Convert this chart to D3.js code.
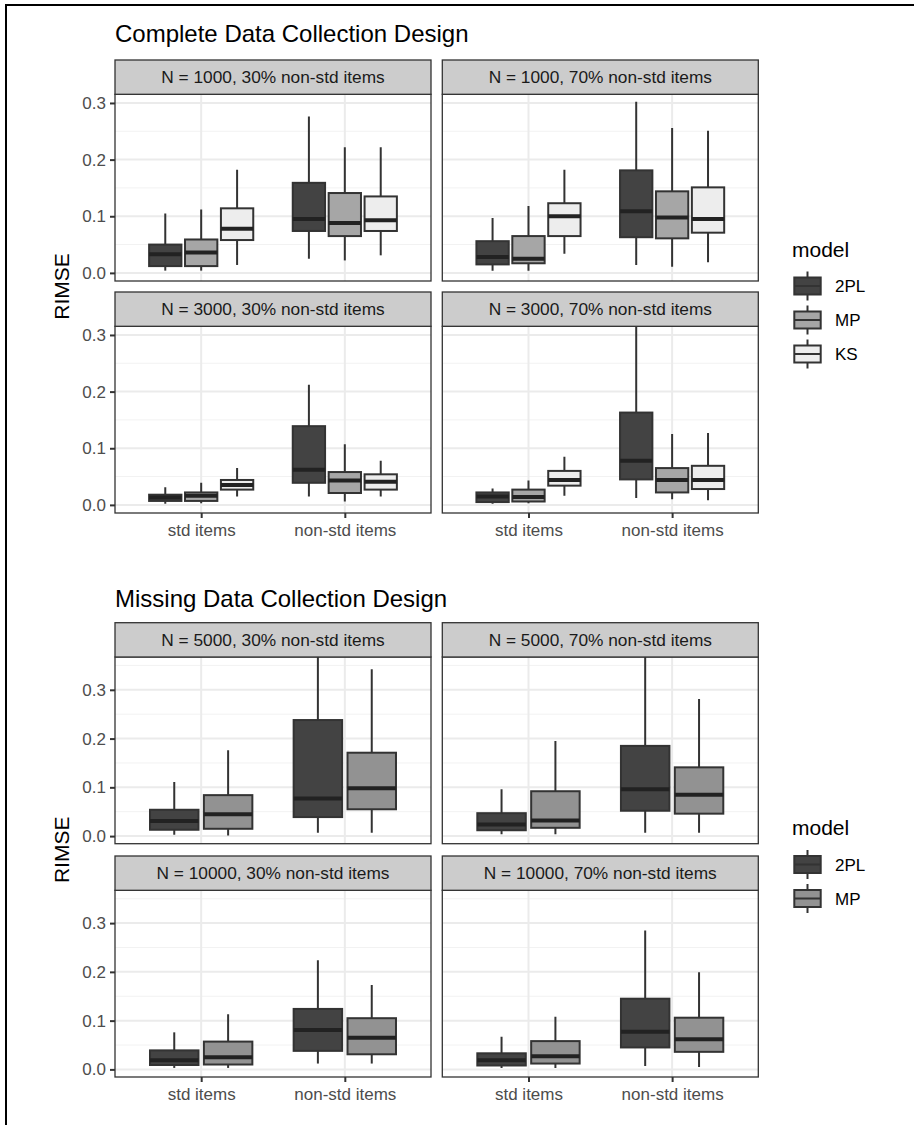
<!DOCTYPE html>
<html>
<head>
<meta charset="utf-8">
<script src="https://cdn.jsdelivr.net/npm/d3@7"></script>
<style>
  body { margin: 0; background: #fff; }
  text { font-family: "Liberation Sans", Arial, sans-serif; }
</style>
</head>
<body>
<div id="chart"></div>
<script>
// Categories and labels.
const itemTypes = ['std items', 'non-std items'];
const completeModels = ['2PL', 'MP', 'KS'];
const missingModels = ['2PL', 'MP'];
const completeFills = ['#434343', '#a6a6a6', '#ededed'];
const missingFills = ['#434343', '#929292'];
const completePanels = ['N = 1000, 30% non-std items', 'N = 1000, 70% non-std items',
                        'N = 3000, 30% non-std items', 'N = 3000, 70% non-std items'];
const missingPanels = ['N = 5000, 30% non-std items', 'N = 5000, 70% non-std items',
                       'N = 10000, 30% non-std items', 'N = 10000, 70% non-std items'];
const yTicks = [0, 0.1, 0.2, 0.3];

// Box stats: [item type][model] -> [lower whisker, q1, median, q3, upper whisker]
const c1000_30 = [
  [[0.004, 0.012, 0.033, 0.050, 0.105], [0.004, 0.012, 0.036, 0.059, 0.112], [0.014, 0.058, 0.078, 0.114, 0.182]],
  [[0.025, 0.074, 0.095, 0.159, 0.276], [0.022, 0.065, 0.088, 0.141, 0.222], [0.031, 0.074, 0.093, 0.135, 0.222]]
];
const c1000_70 = [
  [[0.004, 0.015, 0.028, 0.056, 0.097], [0.004, 0.017, 0.025, 0.065, 0.118], [0.034, 0.065, 0.100, 0.123, 0.182]],
  [[0.014, 0.063, 0.109, 0.181, 0.302], [0.011, 0.061, 0.098, 0.144, 0.256], [0.019, 0.071, 0.095, 0.151, 0.251]]
];
const c3000_30 = [
  [[0.002, 0.007, 0.013, 0.018, 0.031], [0.003, 0.007, 0.016, 0.022, 0.039], [0.015, 0.027, 0.035, 0.044, 0.065]],
  [[0.015, 0.039, 0.062, 0.139, 0.212], [0.006, 0.021, 0.043, 0.058, 0.107], [0.015, 0.027, 0.041, 0.054, 0.078]]
];
const c3000_70 = [
  [[0.002, 0.005, 0.015, 0.022, 0.029], [0.003, 0.006, 0.014, 0.027, 0.043], [0.016, 0.034, 0.044, 0.060, 0.085]],
  [[0.012, 0.045, 0.078, 0.163, 0.330], [0.010, 0.022, 0.044, 0.065, 0.125], [0.008, 0.028, 0.044, 0.069, 0.127]]
];
const m5000_30 = [
  [[0.003, 0.013, 0.031, 0.054, 0.111], [0.001, 0.015, 0.045, 0.084, 0.176]],
  [[0.007, 0.039, 0.077, 0.238, 0.400], [0.007, 0.055, 0.098, 0.171, 0.342]]
];
const m5000_70 = [
  [[0.004, 0.012, 0.024, 0.047, 0.096], [0.004, 0.017, 0.032, 0.092, 0.195]],
  [[0.007, 0.052, 0.096, 0.185, 0.390], [0.007, 0.046, 0.085, 0.141, 0.281]]
];
const m10000_30 = [
  [[0.003, 0.009, 0.019, 0.039, 0.076], [0.003, 0.010, 0.025, 0.057, 0.113]],
  [[0.012, 0.038, 0.081, 0.124, 0.224], [0.012, 0.031, 0.065, 0.105, 0.173]]
];
const m10000_70 = [
  [[0.003, 0.008, 0.019, 0.033, 0.067], [0.003, 0.012, 0.027, 0.058, 0.108]],
  [[0.007, 0.045, 0.077, 0.145, 0.285], [0.005, 0.036, 0.062, 0.106, 0.199]]
];

const width = 914, height = 1125;
const svg = d3.select('#chart').append('svg')
    .attr('width', width)
    .attr('height', height);

// Frame lines (top and left edge of the figure).
svg.append('line').attr('x1', 5).attr('x2', width).attr('y1', 5).attr('y2', 5)
    .attr('stroke', '#000').attr('stroke-width', 2);
svg.append('line').attr('x1', 6).attr('x2', 6).attr('y1', 5).attr('y2', height)
    .attr('stroke', '#000').attr('stroke-width', 2);

const colLefts = [115, 442.3];
const panelW = 316;
const stripH = 34.3;
const panelH = 186.7;
let clipId = 0;

function drawSection(o) {
    svg.append('text')
        .attr('x', 115).attr('y', o.titleY)
        .attr('font-size', 24).attr('fill', '#000')
        .text(o.title);

    const n = o.models.length;
    const unitW = 0.75 / n;

    o.panels.forEach((label, p) => {
        const col = p % 2, row = Math.floor(p / 2);
        const x0 = colLefts[col], x1 = x0 + panelW;
        const sTop = o.rowTops[row];
        const pTop = sTop + stripH, pBot = pTop + panelH;

        const x = d3.scalePoint().domain(itemTypes).range([x0, x1]).padding(0.6);
        const step = x.step();
        const y = d3.scaleLinear().domain(o.yDomain).range([pBot, pTop]);

        const g = svg.append('g');
        const id = 'clip' + (clipId++);
        g.append('clipPath').attr('id', id)
            .append('rect').attr('x', x0).attr('y', pTop).attr('width', panelW).attr('height', panelH);

        // Panel background and grid.
        g.append('rect').attr('x', x0).attr('y', pTop).attr('width', panelW).attr('height', panelH)
            .attr('fill', '#fff');
        const grid = g.append('g').attr('clip-path', `url(#${id})`);
        const minor = d3.range(0.05, o.yDomain[1], 0.1);
        grid.selectAll('.minor').data(minor).join('line')
            .attr('x1', x0).attr('x2', x1)
            .attr('y1', d => y(d)).attr('y2', d => y(d))
            .attr('stroke', '#f2f2f2').attr('stroke-width', 1);
        grid.selectAll('.major').data(yTicks).join('line')
            .attr('x1', x0).attr('x2', x1)
            .attr('y1', d => y(d)).attr('y2', d => y(d))
            .attr('stroke', '#ebebeb').attr('stroke-width', 2);
        grid.selectAll('.vmajor').data(itemTypes).join('line')
            .attr('x1', d => x(d)).attr('x2', d => x(d))
            .attr('y1', pTop).attr('y2', pBot)
            .attr('stroke', '#ebebeb').attr('stroke-width', 2);

        // Boxes.
        const boxes = g.append('g').attr('clip-path', `url(#${id})`);
        const stats = o.stats[p];
        itemTypes.forEach((item, i) => {
            o.models.forEach((m, j) => {
                const s = stats[i][j];
                const cx = x(item) + (j - (n - 1) / 2) * unitW * step;
                const bw = unitW * 0.9 * step;
                boxes.append('line')
                    .attr('x1', cx).attr('x2', cx).attr('y1', y(s[4])).attr('y2', y(s[3]))
                    .attr('stroke', '#333').attr('stroke-width', 2);
                boxes.append('line')
                    .attr('x1', cx).attr('x2', cx).attr('y1', y(s[1])).attr('y2', y(s[0]))
                    .attr('stroke', '#333').attr('stroke-width', 2);
                boxes.append('rect')
                    .attr('x', cx - bw / 2).attr('width', bw)
                    .attr('y', y(s[3])).attr('height', y(s[1]) - y(s[3]))
                    .attr('fill', o.fills[j]).attr('stroke', '#333').attr('stroke-width', 2);
                boxes.append('line')
                    .attr('x1', cx - bw / 2).attr('x2', cx + bw / 2)
                    .attr('y1', y(s[2])).attr('y2', y(s[2]))
                    .attr('stroke', '#222').attr('stroke-width', 4);
            });
        });

        // Panel border.
        g.append('rect').attr('x', x0).attr('y', pTop).attr('width', panelW).attr('height', panelH)
            .attr('fill', 'none').attr('stroke', '#333').attr('stroke-width', 1.3);

        // Strip.
        g.append('rect').attr('x', x0).attr('y', sTop).attr('width', panelW).attr('height', stripH)
            .attr('fill', '#cccccc').attr('stroke', '#333').attr('stroke-width', 1.3);
        g.append('text')
            .attr('x', (x0 + x1) / 2).attr('y', sTop + stripH / 2 + 6)
            .attr('text-anchor', 'middle').attr('font-size', 17.3).attr('fill', '#1a1a1a')
            .text(label);

        // Y axis on the left column.
        if (col === 0) {
            const ax = g.append('g').attr('transform', `translate(${x0},0)`)
                .call(d3.axisLeft(y).tickValues(yTicks).tickFormat(d3.format('.1f')).tickSize(5).tickPadding(4));
            ax.select('.domain').remove();
            ax.selectAll('line').attr('stroke', '#333').attr('stroke-width', 2);
            ax.selectAll('text').attr('font-size', 17).attr('fill', '#4d4d4d')
                .attr('font-family', '"Liberation Sans", Arial, sans-serif');
        }
        // X axis on the bottom row.
        if (row === 1) {
            const ax = g.append('g').attr('transform', `translate(0,${pBot})`)
                .call(d3.axisBottom(x).tickSize(5).tickPadding(6));
            ax.select('.domain').remove();
            ax.selectAll('line').attr('stroke', '#333').attr('stroke-width', 2);
            ax.selectAll('text').attr('font-size', 17).attr('fill', '#4d4d4d')
                .attr('font-family', '"Liberation Sans", Arial, sans-serif');
        }
    });

    // Y axis title.
    const areaTop = o.rowTops[0], areaBot = o.rowTops[1] + stripH + panelH;
    svg.append('text')
        .attr('transform', `translate(69,${(areaTop + areaBot) / 2}) rotate(-90)`)
        .attr('text-anchor', 'middle').attr('font-size', 21).attr('fill', '#000')
        .text('RIMSE');

    // Legend.
    const lg = svg.append('g');
    lg.append('text').attr('x', 792).attr('y', o.legendY)
        .attr('font-size', 21).attr('fill', '#000').text('model');
    o.models.forEach((m, j) => {
        const cy = o.legendY + 29.5 + j * 34;
        const kx = 794.3, kw = 26.4, kc = kx + kw / 2;
        lg.append('line').attr('x1', kc).attr('x2', kc).attr('y1', cy - 14.5).attr('y2', cy + 14.5)
            .attr('stroke', '#333').attr('stroke-width', 2);
        lg.append('rect').attr('x', kx).attr('y', cy - 8.5).attr('width', kw).attr('height', 17)
            .attr('fill', o.fills[j]).attr('stroke', '#333').attr('stroke-width', 2);
        lg.append('line').attr('x1', kx).attr('x2', kx + kw).attr('y1', cy).attr('y2', cy)
            .attr('stroke', '#333').attr('stroke-width', 2);
        lg.append('text').attr('x', 835).attr('y', cy + 6)
            .attr('font-size', 17).attr('fill', '#000').text(m);
    });
}

drawSection({
    title: 'Complete Data Collection Design',
    titleY: 42,
    rowTops: [60, 292],
    yDomain: [-0.0143, 0.3153],
    models: completeModels,
    fills: completeFills,
    panels: completePanels,
    stats: [c1000_30, c1000_70, c3000_30, c3000_70],
    legendY: 256.5
});

drawSection({
    title: 'Missing Data Collection Design',
    titleY: 607,
    rowTops: [622.7, 856],
    yDomain: [-0.0156, 0.3673],
    models: missingModels,
    fills: missingFills,
    panels: missingPanels,
    stats: [m5000_30, m5000_70, m10000_30, m10000_70],
    legendY: 835
});
</script>
</body>
</html>
